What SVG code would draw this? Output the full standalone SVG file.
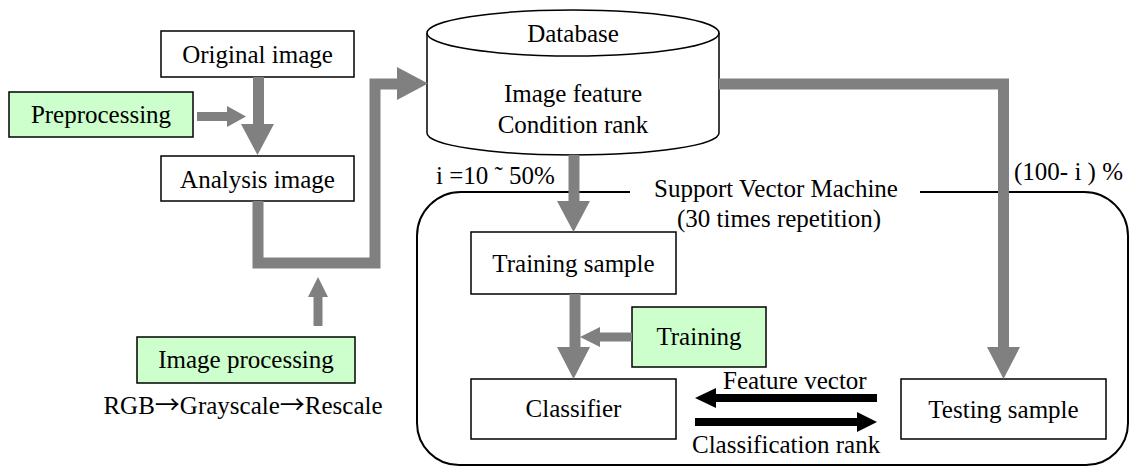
<svg xmlns="http://www.w3.org/2000/svg" width="1130" height="467" viewBox="0 0 1130 467">
  <style>
    text { font-family: "Liberation Serif", "Times New Roman", serif; font-size: 25px; fill: #000; }
    .mid { text-anchor: middle; }
    .arrowglyph { font-family: "Noto Sans CJK JP", "Liberation Serif", serif; }
    .box { fill: #fff; stroke: #000; stroke-width: 1.5; }
    .proc { fill: #ccffcc; stroke: #000; stroke-width: 1.5; }
    .flow { fill: none; stroke: #808080; stroke-width: 11; stroke-linejoin: miter; }
    .thin { fill: none; stroke: #808080; stroke-width: 9; }
    .head { fill: #808080; }
    .black { fill: #000; }
    .frame { fill: none; stroke: #000; stroke-width: 2; }
  </style>

  <!-- SVM frame: rounded rectangle with a gap for its title -->
  <g id="svm-frame">
    <path class="frame" d="M 630 192 H 461 A 44 44 0 0 0 417 236 V 423 A 42 42 0 0 0 459 465 H 1086 A 42 42 0 0 0 1128 423 V 236 A 44 44 0 0 0 1084 192 H 920"/>
    <text class="mid" x="776" y="197">Support Vector Machine</text>
    <text class="mid" x="779" y="227">(30 times repetition)</text>
  </g>

  <g id="original-image">
    <rect class="box" x="161" y="31" width="193" height="46"/>
    <text class="mid" x="257.5" y="63">Original image</text>
  </g>

  <g id="preprocessing">
    <rect class="proc" x="9" y="92" width="184" height="45"/>
    <text class="mid" x="101" y="123">Preprocessing</text>
  </g>

  <g id="analysis-image">
    <rect class="box" x="161" y="156" width="193" height="45"/>
    <text class="mid" x="257.5" y="188">Analysis image</text>
  </g>

  <g id="image-processing">
    <rect class="proc" x="137" y="337" width="218" height="46"/>
    <text class="mid" x="246" y="368">Image processing</text>
    <text class="mid" x="243" y="414">RGB<tspan class="arrowglyph">→</tspan>Grayscale<tspan class="arrowglyph">→</tspan>Rescale</text>
  </g>

  <g id="database">
    <path d="M 427 33 V 133 A 146 22 0 0 0 719 133 V 33" fill="#fff" stroke="#000" stroke-width="1.5"/>
    <ellipse cx="573" cy="33" rx="146" ry="23" fill="#fff" stroke="#000" stroke-width="1.5"/>
    <text class="mid" x="573" y="42">Database</text>
    <text class="mid" x="573" y="102">Image feature</text>
    <text class="mid" x="573" y="133">Condition rank</text>
  </g>

  <g id="training-sample">
    <rect class="box" x="471" y="232" width="205" height="62"/>
    <text class="mid" x="573.5" y="272">Training sample</text>
  </g>

  <g id="training">
    <rect class="proc" x="632" y="307" width="134" height="60"/>
    <text class="mid" x="699" y="345">Training</text>
  </g>

  <g id="classifier">
    <rect class="box" x="471" y="379" width="205" height="60"/>
    <text class="mid" x="573.5" y="417">Classifier</text>
  </g>

  <g id="testing-sample">
    <rect class="box" x="901" y="379" width="205" height="60"/>
    <text class="mid" x="1003.5" y="418">Testing sample</text>
  </g>

  <!-- connectors -->
  <g id="connectors">
    <!-- Original image -> Analysis image -->
    <line class="flow" x1="258.5" y1="77" x2="258.5" y2="125" stroke-width="10"/>
    <polygon class="head" points="241,124 274,124 257.5,155"/>
    <!-- Preprocessing -> main flow -->
    <line class="thin" x1="197" y1="116.5" x2="228" y2="116.5"/>
    <polygon class="head" points="227,106 227,127 246,116.5"/>
    <!-- Analysis image -> Database -->
    <polyline class="flow" points="258,201 258,263 375,263 375,84 398,84"/>
    <polygon class="head" points="397,67 397,100 428,83.5"/>
    <!-- Image processing -> flow -->
    <line class="thin" x1="318" y1="326" x2="318" y2="296" stroke-width="10"/>
    <polygon class="head" points="308,297 328,297 318,277"/>
    <!-- Database -> Training sample -->
    <line class="flow" x1="574" y1="155" x2="574" y2="202"/>
    <polygon class="head" points="557,201 590,201 573.5,232"/>
    <text x="436" y="184">i =10 ˜ 50%</text>
    <!-- Database -> Testing sample -->
    <polyline class="flow" points="719,84 1003.5,84 1003.5,348"/>
    <polygon class="head" points="987,347 1020,347 1003.5,379"/>
    <text x="1014" y="180">(100- i ) %</text>
    <!-- Training sample -> Classifier -->
    <line class="flow" x1="575" y1="294" x2="575" y2="348" stroke-width="10"/>
    <polygon class="head" points="557,347 590,347 573.5,379"/>
    <!-- Training -> flow -->
    <line class="thin" x1="632" y1="337" x2="599" y2="337"/>
    <polygon class="head" points="600,327 600,347 580,337"/>
    <!-- Feature vector (Testing -> Classifier) -->
    <rect class="black" x="714" y="394" width="163" height="8"/>
    <polygon class="black" points="716,388 716,408 695,398"/>
    <text x="723" y="389">Feature vector</text>
    <!-- Classification rank (Classifier -> Testing) -->
    <rect class="black" x="695" y="418" width="163" height="8"/>
    <polygon class="black" points="857,412 857,432 877,422"/>
    <text x="692" y="453">Classification rank</text>
  </g>
</svg>
